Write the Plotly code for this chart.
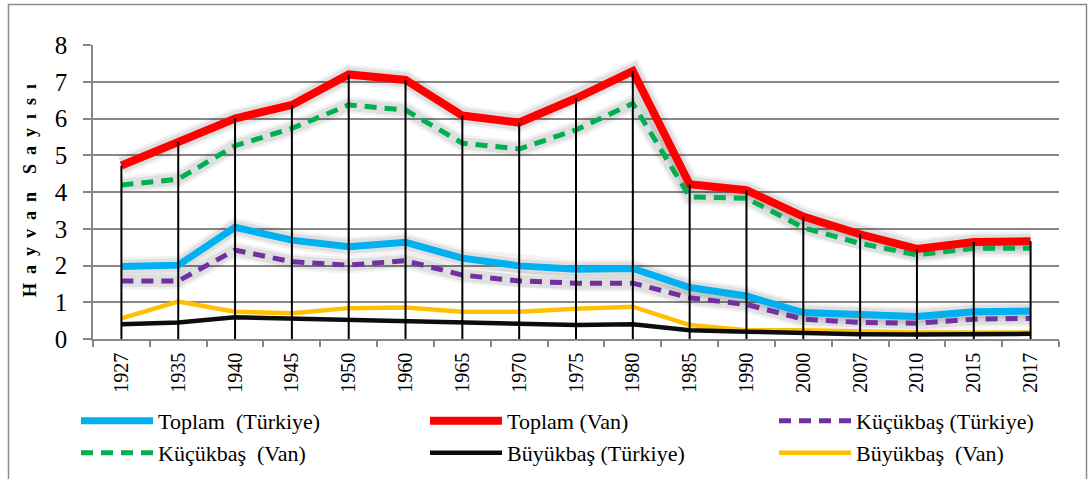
import plotly.graph_objects as go

years = ["1927", "1935", "1940", "1945", "1950", "1960", "1965", "1970", "1975",
         "1980", "1985", "1990", "2000", "2007", "2010", "2015", "2017"]

toplam_turkiye = [1.97, 2.01, 3.04, 2.69, 2.51, 2.63, 2.20, 1.99, 1.90, 1.92,
                  1.40, 1.17, 0.72, 0.65, 0.61, 0.74, 0.76]
toplam_van = [4.72, 5.37, 6.00, 6.37, 7.20, 7.05, 6.08, 5.89, 6.55, 7.29,
              4.21, 4.05, 3.33, 2.85, 2.45, 2.64, 2.66]
kucukbas_turkiye = [1.58, 1.58, 2.42, 2.10, 2.01, 2.13, 1.74, 1.58, 1.52, 1.52,
                    1.12, 0.94, 0.54, 0.45, 0.43, 0.54, 0.56]
kucukbas_van = [4.19, 4.35, 5.26, 5.73, 6.37, 6.23, 5.33, 5.17, 5.69, 6.41,
                3.87, 3.83, 3.03, 2.60, 2.29, 2.47, 2.47]
buyukbas_turkiye = [0.40, 0.45, 0.59, 0.56, 0.52, 0.50, 0.45, 0.41, 0.38, 0.40,
                    0.24, 0.20, 0.15, 0.13, 0.12, 0.13, 0.14]
buyukbas_van = [0.56, 1.02, 0.74, 0.70, 0.84, 0.86, 0.74, 0.74, 0.82, 0.88,
                0.38, 0.24, 0.24, 0.20, 0.18, 0.18, 0.18]

y_ticks = [0, 1, 2, 3, 4, 5, 6, 7, 8]

series = [
    # name, values, color, width, dash, legend, shadow
    ("Büyükbaş\u00a0 (Van)", buyukbas_van, "#FFC000", 4.5, "solid", "legend6", False),
    ("Büyükbaş (Türkiye)", buyukbas_turkiye, "#0D0D0D", 4.5, "solid", "legend5", False),
    ("Küçükbaş (Türkiye)", kucukbas_turkiye, "#7030A0", 5, "12px,8px", "legend3", True),
    ("Toplam\u00a0 (Türkiye)", toplam_turkiye, "#00B0F0", 7, "solid", "legend", True),
    ("Küçükbaş\u00a0 (Van)", kucukbas_van, "#00B050", 5, "12px,8px", "legend4", True),
    ("Toplam (Van)", toplam_van, "#FF0000", 8, "solid", "legend2", True),
]

fig = go.Figure()

# soft shadows
for name, vals, color, w, dash, leg, shadow in series:
    if shadow:
        for extra, alpha in ((12, 0.05), (7, 0.08)):
            fig.add_trace(go.Scatter(
                x=years, y=vals, mode="lines",
                line=dict(color=f"rgba(0,0,0,{alpha})", width=w + extra),
                showlegend=False, hoverinfo="skip"))

for name, vals, color, w, dash, leg, shadow in series:
    fig.add_trace(go.Scatter(
        x=years, y=vals, mode="lines", name=name, legend=leg,
        line=dict(color=color, width=w, dash=dash)))

# drop lines from the highest series to the axis
fig.add_trace(go.Scatter(
    x=years, y=toplam_van, mode="lines", line=dict(width=0, color="rgba(0,0,0,0)"),
    showlegend=False, hoverinfo="skip",
    error_y=dict(type="data", symmetric=False, array=[0] * len(years),
                 arrayminus=toplam_van, color="black", thickness=2, width=0)))

serif = "Times New Roman, Liberation Serif, Tinos, serif"
PL, PR, PT, PB = 93, 1059, 45, 339
W, H = 1089, 479
pw, ph = PR - PL, PB - PT


def legend_at(xpix, ytop):
    return dict(
        orientation="v", xref="container", yref="container",
        x=xpix / W, y=(H - ytop) / H, xanchor="left", yanchor="top",
        itemwidth=72,
        font=dict(family=serif, size=22, color="black"),
        bgcolor="rgba(0,0,0,0)",
    )


fig.update_layout(
    width=W, height=H,
    margin=dict(l=PL, r=W - PR, t=PT, b=H - PB, autoexpand=False),
    paper_bgcolor="white", plot_bgcolor="white",
    font=dict(family=serif, color="black"),
    showlegend=True,
    legend=legend_at(76, 400),
    legend2=legend_at(425, 400),
    legend3=legend_at(774, 400),
    legend4=legend_at(76, 432),
    legend5=legend_at(425, 432),
    legend6=legend_at(774, 432),
    xaxis=dict(
        type="category", range=[-0.5, len(years) - 0.5], automargin=False,
        showgrid=False, showline=True, linecolor="#878787", linewidth=1.5,
        ticks="outside", tickson="boundaries", ticklen=6, tickcolor="#878787",
        tickwidth=1.5, tickangle=-90, ticklabelstandoff=4,
        tickfont=dict(family=serif, size=20, color="black"),
    ),
    yaxis=dict(
        range=[0, 8], tickvals=y_ticks, showgrid=True, gridcolor="#878787",
        gridwidth=1.5, showline=True, linecolor="#878787", linewidth=1.5,
        automargin=False, ticklabelstandoff=11,
        ticks="outside", ticklen=8, tickcolor="#878787", tickwidth=1.5,
        tickfont=dict(family=serif, size=25, color="black"), zeroline=False,
    ),
    shapes=[dict(
        type="rect", xref="paper", yref="paper",
        x0=(8.5 - PL) / pw, x1=(1086.5 - PL) / pw,
        y0=(PB - 484) / ph, y1=(PB - 4.5) / ph,
        line=dict(color="#8C8C8C", width=1.5), fillcolor="rgba(0,0,0,0)",
        layer="below")],
    annotations=[dict(
        text="<b>H\u2002a\u2002y\u2002v\u2002a\u2002n\u2002\u2002S\u2002a\u2002y\u2002ı\u2002s\u2002ı</b>",
        xref="paper", yref="paper", x=(30 - PL) / pw, y=(PB - 191) / ph,
        xanchor="center", yanchor="middle", textangle=-90, showarrow=False,
        font=dict(family=serif, size=18, color="black"))],
)

fig.write_html("out.html", config={"displayModeBar": False},
               post_script="document.body.style.margin='0';")
